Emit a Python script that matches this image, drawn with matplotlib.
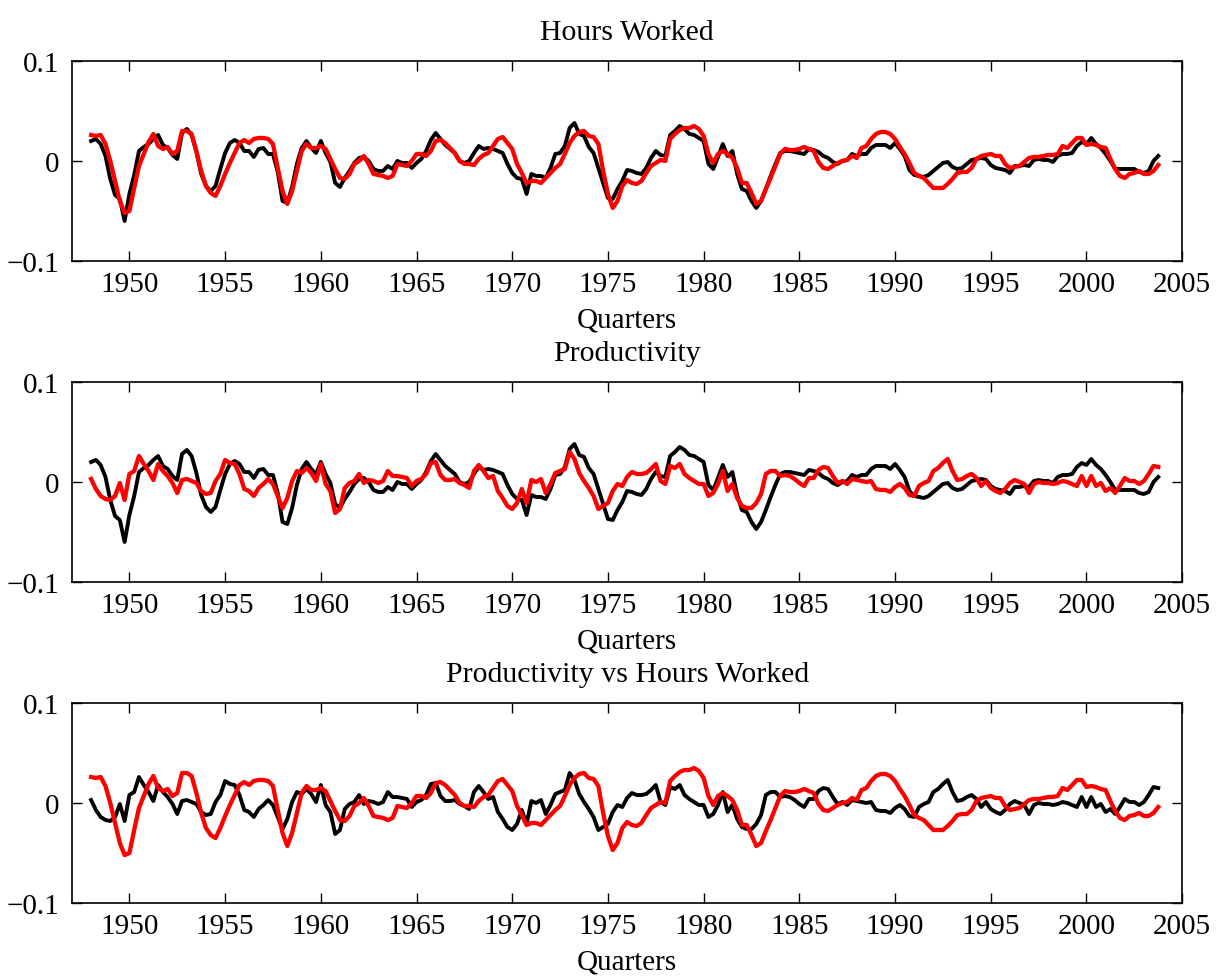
import numpy as np
import matplotlib.pyplot as plt

plt.rcParams['font.family'] = ['Liberation Serif', 'DejaVu Serif']
plt.rcParams['font.size'] = 21

START_YEAR = 1948  # first quarter of the sample

# HP-filtered cyclical components, one value per quarter
output_cycle = [
    0.020, 0.022, 0.017, 0.005, -0.018, -0.034, -0.038, -0.060, -0.033, -0.014,
    0.010, 0.014, 0.017, 0.022, 0.026, 0.016, 0.013, 0.006, 0.002, 0.028,
    0.032, 0.026, 0.009, -0.013, -0.025, -0.030, -0.025, -0.008, 0.008, 0.018,
    0.021, 0.018, 0.010, 0.010, 0.004, 0.012, 0.013, 0.007, 0.007, -0.011,
    -0.040, -0.042, -0.026, -0.003, 0.013, 0.020, 0.013, 0.008, 0.020, 0.008,
    -0.001, -0.022, -0.026, -0.017, -0.010, -0.002, 0.003, 0.004, 0.000, -0.008,
    -0.010, -0.010, -0.005, -0.008, 0.000, -0.002, -0.002, -0.007, -0.002, 0.002,
    0.010, 0.021, 0.028, 0.022, 0.016, 0.012, 0.008, 0.000, -0.002, 0.000,
    0.008, 0.015, 0.012, 0.013, 0.012, 0.010, 0.008, -0.003, -0.012, -0.017,
    -0.018, -0.033, -0.013, -0.015, -0.015, -0.017, -0.007, 0.007, 0.008, 0.015,
    0.033, 0.038, 0.027, 0.025, 0.014, 0.008, -0.007, -0.022, -0.037, -0.038,
    -0.028, -0.020, -0.009, -0.010, -0.012, -0.013, -0.007, 0.003, 0.010, 0.006,
    0.005, 0.026, 0.030, 0.035, 0.032, 0.027, 0.026, 0.023, 0.020, -0.003,
    -0.008, 0.004, 0.017, 0.005, 0.010, -0.013, -0.028, -0.030, -0.040, -0.047,
    -0.040, -0.028, -0.015, -0.003, 0.008, 0.010, 0.010, 0.009, 0.008, 0.007,
    0.012, 0.011, 0.009, 0.005, 0.003, -0.001, -0.003, 0.000, 0.001, 0.007,
    0.005, 0.007, 0.007, 0.013, 0.016, 0.016, 0.016, 0.013, 0.018, 0.012,
    0.005, -0.009, -0.014, -0.015, -0.016, -0.014, -0.010, -0.006, -0.002, -0.001,
    -0.006, -0.008, -0.007, -0.003, 0.001, 0.002, 0.003, 0.002, -0.004, -0.007,
    -0.008, -0.009, -0.012, -0.005, -0.005, -0.004, -0.005, 0.001, 0.002, 0.001,
    0.001, -0.001, 0.005, 0.007, 0.007, 0.008, 0.015, 0.019, 0.017, 0.023,
    0.017, 0.013, 0.007, 0.000, -0.008, -0.008, -0.008, -0.008, -0.008, -0.011,
    -0.012, -0.010, 0.000, 0.005]

hours_cycle = [
    0.026, 0.025, 0.026, 0.017, 0.000, -0.020, -0.040, -0.052, -0.050, -0.027,
    -0.005, 0.007, 0.019, 0.027, 0.015, 0.012, 0.014, 0.007, 0.010, 0.030,
    0.030, 0.027, 0.010, -0.010, -0.025, -0.032, -0.035, -0.025, -0.013, -0.002,
    0.008, 0.018, 0.021, 0.018, 0.022, 0.023, 0.023, 0.022, 0.017, -0.007,
    -0.030, -0.043, -0.030, -0.010, 0.010, 0.017, 0.013, 0.013, 0.015, 0.012,
    0.002, -0.008, -0.017, -0.018, -0.013, -0.003, 0.000, 0.005, -0.003, -0.013,
    -0.014, -0.015, -0.017, -0.015, -0.003, -0.004, -0.005, 0.000, 0.007, 0.007,
    0.005, 0.010, 0.020, 0.021, 0.018, 0.013, 0.008, 0.000, -0.003, -0.003,
    -0.004, 0.002, 0.006, 0.008, 0.015, 0.022, 0.024, 0.018, 0.012, -0.003,
    -0.012, -0.022, -0.020, -0.020, -0.022, -0.017, -0.012, -0.007, -0.003, 0.007,
    0.018, 0.025, 0.029, 0.030, 0.025, 0.024, 0.017, -0.010, -0.033, -0.047,
    -0.040, -0.025, -0.019, -0.022, -0.023, -0.020, -0.012, -0.005, -0.002, 0.001,
    0.000, 0.022, 0.027, 0.031, 0.033, 0.033, 0.035, 0.032, 0.025, 0.007,
    -0.002, 0.007, 0.010, 0.007, 0.003, -0.007, -0.022, -0.022, -0.032, -0.043,
    -0.040, -0.028, -0.017, -0.005, 0.007, 0.012, 0.011, 0.011, 0.012, 0.014,
    0.012, 0.010, -0.001, -0.007, -0.008, -0.005, -0.002, 0.000, 0.001, 0.005,
    0.003, 0.013, 0.015, 0.022, 0.027, 0.029, 0.029, 0.027, 0.022, 0.014,
    0.007, -0.002, -0.012, -0.015, -0.017, -0.022, -0.027, -0.027, -0.027, -0.023,
    -0.018, -0.012, -0.011, -0.011, -0.007, 0.002, 0.005, 0.006, 0.007, 0.005,
    0.005, -0.003, -0.007, -0.006, -0.005, -0.001, 0.003, 0.004, 0.004, 0.005,
    0.006, 0.006, 0.007, 0.015, 0.013, 0.018, 0.023, 0.023, 0.016, 0.017,
    0.016, 0.014, 0.013, 0.002, -0.008, -0.015, -0.017, -0.013, -0.012, -0.010,
    -0.013, -0.013, -0.010, -0.004]

productivity_cycle = [
    0.003, -0.007, -0.014, -0.017, -0.018, -0.014, -0.001, -0.018, 0.008, 0.011,
    0.026, 0.018, 0.011, 0.002, 0.018, 0.011, 0.006, -0.001, -0.011, 0.002,
    0.003, 0.001, -0.001, -0.009, -0.012, -0.011, 0.001, 0.008, 0.022, 0.019,
    0.018, 0.008, -0.007, -0.009, -0.014, -0.006, -0.002, 0.003, -0.002, -0.014,
    -0.026, -0.016, 0.001, 0.011, 0.009, 0.014, 0.009, 0.001, 0.018, -0.002,
    -0.009, -0.031, -0.027, -0.006, -0.001, 0.001, 0.008, -0.001, 0.002, 0.001,
    -0.001, 0.001, 0.011, 0.006, 0.006, 0.005, 0.004, -0.004, 0.001, 0.003,
    0.008, 0.019, 0.020, 0.007, 0.002, 0.002, 0.003, -0.001, -0.003, -0.006,
    0.011, 0.017, 0.011, 0.004, 0.006, -0.009, -0.016, -0.024, -0.027, -0.021,
    -0.007, -0.021, 0.002, 0.000, 0.003, -0.011, -0.002, 0.009, 0.011, 0.013,
    0.030, 0.023, 0.009, 0.001, -0.006, -0.014, -0.027, -0.024, -0.021, -0.009,
    -0.002, -0.004, 0.005, 0.010, 0.008, 0.008, 0.009, 0.013, 0.018, 0.001,
    -0.002, 0.016, 0.014, 0.018, 0.008, 0.004, 0.001, -0.002, -0.002, -0.014,
    -0.011, -0.002, 0.011, -0.009, -0.002, -0.016, -0.024, -0.026, -0.026, -0.021,
    -0.012, 0.008, 0.011, 0.011, 0.006, 0.007, 0.006, 0.003, -0.001, -0.004,
    0.004, 0.004, 0.012, 0.015, 0.014, 0.006, -0.001, 0.001, -0.002, 0.003,
    0.002, 0.001, 0.000, 0.001, -0.007, -0.008, -0.008, -0.010, -0.005, -0.002,
    -0.006, -0.013, -0.014, -0.004, -0.001, 0.001, 0.011, 0.014, 0.019, 0.023,
    0.011, 0.002, 0.003, 0.006, 0.008, 0.004, -0.004, 0.001, -0.006, -0.009,
    -0.011, -0.007, -0.001, 0.002, 0.000, -0.002, -0.011, -0.002, 0.000, -0.001,
    -0.001, -0.002, -0.001, 0.001, 0.000, -0.002, -0.004, 0.006, -0.004, 0.006,
    -0.004, -0.001, -0.009, -0.006, -0.011, -0.004, 0.004, 0.001, 0.001, -0.002,
    0.001, 0.008, 0.016, 0.015]

panel_titles = ['Hours Worked', 'Productivity', 'Productivity vs Hours Worked']


def quarter_dates(series):
    return START_YEAR + np.arange(len(series)) / 4.0


def plot_panel(ax, black, red, title):
    ax.plot(quarter_dates(black), black, color='k', lw=2.8)
    ax.plot(quarter_dates(red), red, color='r', lw=3.1)
    ax.set_xlim(1947, 2005)
    ax.set_ylim(-0.1, 0.1)
    ax.set_xticks(range(1950, 2006, 5))
    ax.set_yticks([-0.1, 0, 0.1])
    ax.set_yticklabels(['\u22120.1', '0', '0.1'])
    ax.tick_params(direction='in', top=True, right=True, length=7, width=1,
                   pad=7)
    ax.tick_params(axis='y', pad=9)
    for spine in ax.spines.values():
        spine.set_linewidth(1.2)
    # fixed y keeps the title clear of matplotlib's automatic placement
    ax.set_title(title, fontsize=21.5, y=1.11, pad=0)
    ax.set_xlabel('Quarters', labelpad=7)


fig = plt.figure(figsize=(12.2, 9.79), dpi=100)
bottoms = [0.7324, 0.4045, 0.0766]
axes = [fig.add_axes([0.059, b, 0.910, 0.2043]) for b in bottoms]

plot_panel(axes[0], output_cycle, hours_cycle, panel_titles[0])
plot_panel(axes[1], output_cycle, productivity_cycle, panel_titles[1])
plot_panel(axes[2], productivity_cycle, hours_cycle, panel_titles[2])

fig.savefig('out.png', dpi=100)
